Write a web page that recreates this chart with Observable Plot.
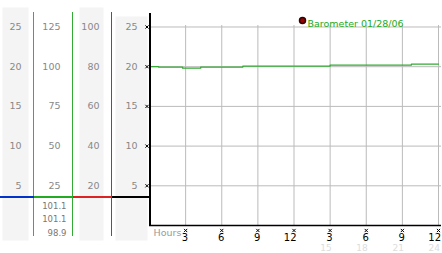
<!DOCTYPE html>
<html><head><meta charset="utf-8">
<script src="https://cdn.jsdelivr.net/npm/d3@7"></script>
<script src="https://cdn.jsdelivr.net/npm/@observablehq/plot@0.6"></script>
<style>
body{margin:0;background:#fff}
#chart{position:relative;width:442px;height:253px;overflow:hidden;font-family:"DejaVu Sans",sans-serif}
#chart svg{position:absolute;top:0;background:transparent;overflow:visible}
</style></head><body><div id="chart"></div>
<script>
// ---- data ----
const hours = [0, 0.75, 2.75, 4.25, 7.75, 15, 21.75, 24];
const barometer = [20.02, 19.95, 19.82, 19.95, 20.07, 20.2, 20.33, 20.33];
const xTicks = [3, 6, 9, 12, 15, 18, 21, 24];
const xTickLabels = ["3", "6", "9", "12", "3", "6", "9", "12"];
const xSubLabels = ["", "", "", "", "15", "18", "21", "24"];
const yTicks = [5, 10, 15, 20, 25];
const col2Ticks = [25, 50, 75, 100, 125];
const col3Ticks = [20, 40, 60, 80, 100];
const col4Ticks = [5, 10, 15, 20, 25];
const readouts = ["101.1", "101.1", "98.9"];
const legendLabel = "Barometer 01/28/06";
const xLabel = "Hours";
const markerLevel = 3.6; // in base (0-25) units
const yMax = 26.7;

const H = 253, MT = 13, MB = 28;
const chart = document.getElementById("chart");

const columns = [
  {left: 0, width: 34, factor: 1, ticks: yTicks, gray: [2, 6, -6], vColor: "#3399cc", hColor: "#0033cc", dx: -13},
  {left: 34, width: 39, factor: 5, ticks: col2Ticks, gray: null, vColor: "#33aa33", hColor: "#22aa22", dx: -13, readouts: true},
  {left: 73, width: 39, factor: 4, ticks: col3Ticks, gray: [6, 9, -6], vColor: "#aa3333", hColor: "#dd2222", dx: -13},
  {left: 112, width: 37, factor: 1, ticks: col4Ticks, gray: [3, 2, 3], vColor: null, hColor: "#000000", dx: -12}
];

for (const c of columns) {
  const marks = [];
  if (c.gray) marks.push(Plot.frame({fill: "#f4f4f4", stroke: null, insetLeft: c.gray[0], insetRight: c.gray[1], insetTop: c.gray[2], insetBottom: -15}));
  marks.push(Plot.text(c.ticks, {y: d => d, text: d => String(d), frameAnchor: "right", textAnchor: "end", dx: c.dx, fill: "#888", fontSize: 9.5}));
  if (c.readouts) marks.push(Plot.text([readouts.join("\n")], {frameAnchor: "bottom-right", textAnchor: "end", lineAnchor: "middle", lineHeight: 1.57, dx: -7, dy: -7.3, fill: "#777", fontSize: 8.5}));
  if (c.vColor) marks.push(Plot.ruleX([1], {stroke: c.vColor, dx: -1, insetTop: -1, insetBottom: -11}));
  marks.push(Plot.ruleY([markerLevel * c.factor], {stroke: c.hColor, strokeWidth: 2}));
  const svg = Plot.plot({
    width: c.width, height: H,
    marginLeft: 0, marginRight: 0, marginTop: MT, marginBottom: MB,
    x: {domain: [0, 1], axis: null},
    y: {domain: [0, yMax * c.factor], axis: null},
    style: {background: "transparent", fontFamily: "DejaVu Sans, sans-serif", overflow: "visible"},
    marks
  });
  svg.style.left = c.left + "px";
  chart.appendChild(svg);
}

const data = hours.map((h, i) => ({h, v: barometer[i]}));
const main = Plot.plot({
  width: 296, height: H,
  marginLeft: 3, marginRight: 4, marginTop: MT, marginBottom: MB,
  x: {domain: [0, 24], axis: null},
  y: {domain: [0, yMax], axis: null},
  style: {background: "transparent", fontFamily: "DejaVu Sans, sans-serif", overflow: "visible"},
  marks: [
    Plot.ruleY(yTicks, {stroke: "#bbb", insetRight: -3}),
    Plot.ruleX(xTicks, {stroke: "#bbb", insetTop: 12}),
    Plot.line(data, {x: "h", y: "v", curve: "step-after", stroke: "#33aa33", strokeWidth: 1.3}),
    Plot.ruleY([0], {stroke: "black", strokeWidth: 1.5, insetRight: -3}),
    Plot.ruleX([0], {stroke: "black", strokeWidth: 2, dx: 0.5}),
    Plot.dot(yTicks, {y: d => d, frameAnchor: "left", dx: -2.5, symbol: "times", r: 1.6, stroke: "black", strokeWidth: 1}),
    Plot.dot(xTicks, {x: d => d, frameAnchor: "bottom", dy: 5, symbol: "times", r: 1.6, stroke: "black", strokeWidth: 1}),
    Plot.text(xTicks, {x: d => d, text: (d, i) => xTickLabels[i], frameAnchor: "bottom", textAnchor: "end", dx: 2.5, dy: 15, fill: "black", fontSize: 10}),
    Plot.text(xTicks, {x: d => d, text: (d, i) => xSubLabels[i], frameAnchor: "bottom", textAnchor: "end", dx: 1.5, dy: 25, fill: "#ddd", fontSize: 9}),
    Plot.text([xLabel], {frameAnchor: "bottom-left", textAnchor: "start", dx: 4, dy: 10, fill: "#999", fontSize: 9.5}),
    Plot.dot([legendLabel], {frameAnchor: "top-left", dx: 153, dy: 7, r: 3, fill: "#990000", stroke: "#330000"}),
    Plot.text([legendLabel], {frameAnchor: "top-left", dx: 158, dy: 7, textAnchor: "start", fill: "#22aa22", fontSize: 9.5})
  ]
});
main.style.left = "146px";
chart.appendChild(main);
</script>
</body></html>
